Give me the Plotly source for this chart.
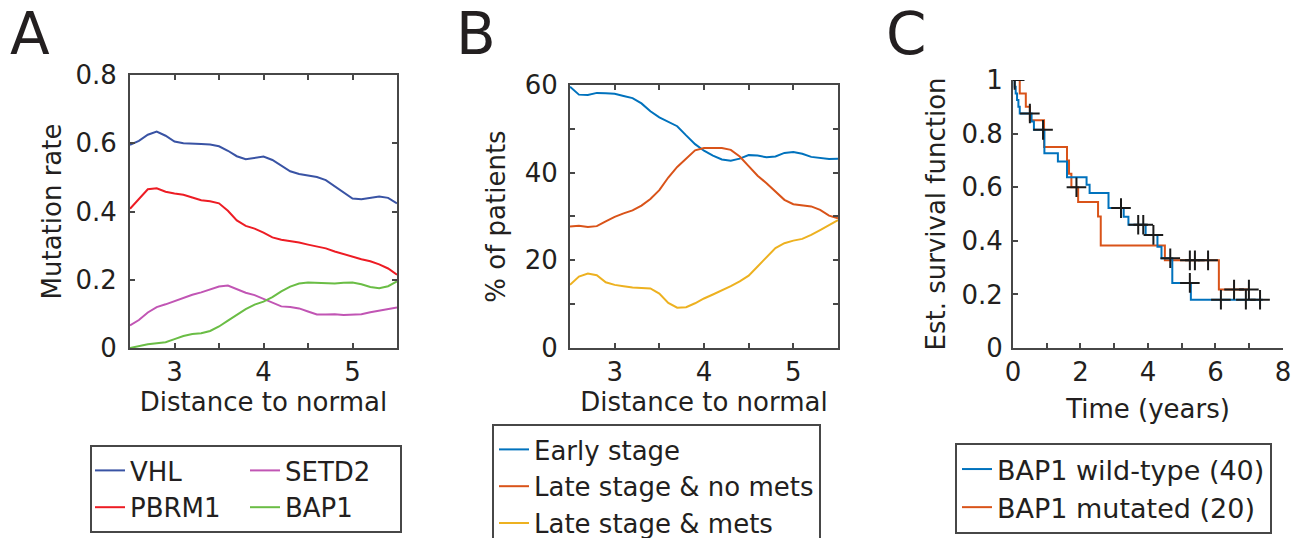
import plotly.graph_objects as go

# ---------------- Panel A data ----------------
dist = [2.5, 2.6, 2.7, 2.8, 2.9, 3.0, 3.1, 3.2, 3.3, 3.4, 3.5, 3.6, 3.7, 3.8, 3.9, 4.0,
        4.1, 4.2, 4.3, 4.4, 4.5, 4.6, 4.7, 4.8, 4.9, 5.0, 5.1, 5.2, 5.3, 5.4, 5.5]
vhl = [0.595, 0.607, 0.625, 0.634, 0.622, 0.605, 0.600, 0.600, 0.598, 0.596, 0.591, 0.578,
       0.562, 0.553, 0.558, 0.561, 0.551, 0.534, 0.518, 0.510, 0.506, 0.501, 0.492, 0.474,
       0.454, 0.438, 0.436, 0.440, 0.444, 0.440, 0.424]
pbrm1 = [0.408, 0.435, 0.465, 0.468, 0.458, 0.453, 0.449, 0.441, 0.433, 0.430, 0.424, 0.402,
         0.374, 0.358, 0.350, 0.338, 0.324, 0.317, 0.314, 0.309, 0.303, 0.298, 0.292, 0.283,
         0.275, 0.267, 0.260, 0.254, 0.245, 0.233, 0.215]
setd2 = [0.066, 0.082, 0.104, 0.120, 0.128, 0.138, 0.147, 0.156, 0.163, 0.172, 0.180, 0.183,
         0.172, 0.162, 0.155, 0.144, 0.131, 0.122, 0.120, 0.116, 0.107, 0.098, 0.098, 0.099,
         0.097, 0.097, 0.099, 0.105, 0.110, 0.113, 0.119]
bap1 = [0.000, 0.006, 0.011, 0.014, 0.017, 0.026, 0.035, 0.041, 0.043, 0.050, 0.063, 0.080,
        0.097, 0.114, 0.127, 0.136, 0.149, 0.166, 0.180, 0.189, 0.192, 0.191, 0.189, 0.189,
        0.191, 0.192, 0.187, 0.179, 0.175, 0.181, 0.195]

# ---------------- Panel B data ----------------
early = [59.6, 57.8, 57.7, 58.2, 58.1, 58.0, 57.5, 57.0, 55.8, 54.0, 52.6, 51.6, 50.6, 48.5,
         46.5, 45.0, 43.9, 43.0, 42.7, 43.2, 44.0, 43.9, 43.5, 43.7, 44.5, 44.7, 44.3, 43.6,
         43.3, 43.1, 43.2]
late_nomets = [27.7, 27.9, 27.6, 27.8, 28.9, 29.9, 30.7, 31.4, 32.5, 34.0, 36.0, 38.9, 41.3,
               43.3, 45.1, 45.6, 45.6, 45.6, 45.2, 43.7, 41.5, 39.3, 37.6, 35.8, 33.8, 32.8,
               32.5, 32.3, 31.5, 30.2, 29.6]
late_mets = [14.4, 16.3, 17.0, 16.6, 15.0, 14.4, 14.1, 13.8, 13.7, 13.6, 12.4, 10.3, 9.2, 9.3,
             10.2, 11.3, 12.2, 13.1, 14.1, 15.2, 16.5, 18.6, 20.7, 22.8, 23.9, 24.5, 24.9,
             25.8, 26.9, 28.0, 29.2]

# ---------------- Panel C data (Kaplan-Meier) ----------------
wt_t = [0, 0.05, 0.08, 0.12, 0.16, 0.2, 0.55, 0.62, 0.93, 1.33, 1.6, 2.18, 2.27, 2.83, 3.28,
        3.42, 3.93, 4.28, 4.4, 4.72, 5.27, 7.4]
wt_s = [1.0, 0.975, 0.95, 0.925, 0.9, 0.875, 0.845, 0.814, 0.727, 0.696, 0.637, 0.609, 0.578,
        0.522, 0.49, 0.46, 0.422, 0.378, 0.335, 0.243, 0.18, 0.18]
mut_t = [0, 0.2, 0.38, 0.5, 0.92, 1.6, 1.66, 1.73, 1.93, 2.52, 2.6, 4.5, 6.1, 7.0]
mut_s = [1.0, 0.95, 0.9, 0.85, 0.75, 0.7, 0.65, 0.6, 0.545, 0.491, 0.382, 0.327, 0.218, 0.218]
wt_cens_t = [0.05, 0.5, 0.89, 3.2, 3.71, 3.86, 4.16, 4.66, 5.24, 6.16, 6.9, 7.32]
wt_cens_s = [1.0, 0.875, 0.814, 0.522, 0.46, 0.46, 0.422, 0.335, 0.243, 0.18, 0.18, 0.18]
mut_cens_t = [1.88, 5.24, 5.39, 5.78, 6.55, 6.99]
mut_cens_s = [0.6, 0.327, 0.327, 0.327, 0.218, 0.218]

FONT = "DejaVu Sans, Verdana, sans-serif"
TXT = "#231f20"
AX = "#474747"
FS = 26
LFS = 26

fig = go.Figure()

# Panel A traces
colA = {"VHL": "#3953a4", "PBRM1": "#ed1c24", "SETD2": "#c155b4", "BAP1": "#6abd45"}
seriesA = [("VHL", vhl, "g1"), ("PBRM1", pbrm1, "g1"), ("SETD2", setd2, "g2"), ("BAP1", bap1, "g2")]
for name, ys, grp in seriesA:
    fig.add_trace(go.Scatter(x=dist, y=ys, mode="lines", name=name, legendgroup=grp,
                             line=dict(color=colA[name], width=2), xaxis="x", yaxis="y",
                             legend="legend"))

# Panel B traces
seriesB = [("Early stage", early, "#0072bd"), ("Late stage & no mets", late_nomets, "#d95319"),
           ("Late stage & mets", late_mets, "#edb120")]
for name, ys, c in seriesB:
    fig.add_trace(go.Scatter(x=dist, y=ys, mode="lines", name=name,
                             line=dict(color=c, width=2), xaxis="x2", yaxis="y2",
                             legend="legend2"))

# Panel C traces
fig.add_trace(go.Scatter(x=mut_t, y=mut_s, mode="lines", name="BAP1 mutated (20)",
                         line=dict(color="#d95319", width=2, shape="hv"), xaxis="x3", yaxis="y3",
                         legend="legend3", legendrank=2))
fig.add_trace(go.Scatter(x=wt_t, y=wt_s, mode="lines", name="BAP1 wild-type (40)",
                         line=dict(color="#0072bd", width=2, shape="hv"), xaxis="x3", yaxis="y3",
                         legend="legend3", legendrank=1))
fig.add_trace(go.Scatter(x=wt_cens_t + mut_cens_t, y=wt_cens_s + mut_cens_s, mode="markers",
                         showlegend=False, xaxis="x3", yaxis="y3",
                         marker=dict(symbol="cross-thin", size=14, color="#1a1a1a",
                                     line=dict(color="#1a1a1a", width=2))))

def axis_common(**kw):
    d = dict(showline=True, linecolor=AX, linewidth=2, ticks="inside", ticklen=5,
             tickwidth=2, tickcolor=AX, showgrid=False, zeroline=False, automargin=False,
             tickfont=dict(family=FONT, size=FS, color=TXT),
             title_font=dict(family=FONT, size=FS, color=TXT))
    d.update(kw)
    return d

xA_vals = [2.5, 3, 3.5, 4, 4.5, 5, 5.5]
xA_text = ["", "3", "", "4", "", "5", ""]

fig.update_layout(
    template="none",
    width=1299, height=538, autosize=False,
    margin=dict(l=0, r=0, t=0, b=0, autoexpand=False),
    paper_bgcolor="white", plot_bgcolor="white",
    font=dict(family=FONT, size=FS, color=TXT),
    xaxis=axis_common(domain=[0.10008, 0.30562], range=[2.5, 5.5], anchor="y", mirror="ticks",
                      tickvals=xA_vals, ticktext=xA_text,
                      title=dict(text="Distance to normal", standoff=4)),
    yaxis=axis_common(domain=[0.35316, 0.86059], range=[0, 0.8], anchor="x", mirror="ticks",
                      tickvals=[0, 0.2, 0.4, 0.6, 0.8], ticktext=["0", "0.2", "0.4", "0.6", "0.8"],
                      ticklabelstandoff=6, title=dict(text="Mutation rate", standoff=6)),
    xaxis2=axis_common(domain=[0.43880, 0.64511], range=[2.5, 5.5], anchor="y2", mirror="ticks",
                       tickvals=xA_vals, ticktext=xA_text,
                       title=dict(text="Distance to normal", standoff=4)),
    yaxis2=axis_common(domain=[0.35316, 0.84201], range=[0, 60], anchor="x2", mirror="ticks",
                       tickvals=[0, 10, 20, 30, 40, 50, 60],
                       ticktext=["0", "", "20", "", "40", "", "60"],
                       ticklabelstandoff=5, title=dict(text="% of patients", standoff=12)),
    xaxis3=axis_common(domain=[0.77983, 0.98768], range=[0, 8], anchor="y3",
                       tickvals=[0, 1, 2, 3, 4, 5, 6, 7, 8],
                       ticktext=["0", "", "2", "", "4", "", "6", "", "8"],
                       title=dict(text="Time (years)", standoff=14)),
    yaxis3=axis_common(domain=[0.35316, 0.85130], range=[0, 1], anchor="x3",
                       tickvals=[0, 0.2, 0.4, 0.6, 0.8, 1],
                       ticktext=["0", "0.2", "0.4", "0.6", "0.8", "1"],
                       ticklabelstandoff=3, title=dict(text="Est. survival function", standoff=8)),
    legend=dict(x=90 / 1299, y=1 - 445 / 538, xanchor="left", yanchor="top",
                orientation="h", traceorder="grouped", tracegroupgap=0, entrywidth=110,
                bordercolor=AX, borderwidth=2,
                bgcolor="white", font=dict(family=FONT, size=LFS, color=TXT)),
    legend2=dict(x=492 / 1299, y=1 - 424 / 538, xanchor="left", yanchor="top",
                 orientation="v", bordercolor=AX, borderwidth=2, bgcolor="white",
                 font=dict(family=FONT, size=LFS, color=TXT)),
    legend3=dict(x=955 / 1299, y=1 - 443 / 538, xanchor="left", yanchor="top",
                 orientation="v", bordercolor=AX, borderwidth=2, bgcolor="white",
                 font=dict(family=FONT, size=27, color=TXT)),
    annotations=[
        dict(text="A", x=8 / 1299, y=1 - 34 / 538, xref="paper", yref="paper",
             xanchor="left", yanchor="middle", showarrow=False,
             font=dict(family=FONT, size=58, color=TXT)),
        dict(text="B", x=454 / 1299, y=1 - 34 / 538, xref="paper", yref="paper",
             xanchor="left", yanchor="middle", showarrow=False,
             font=dict(family=FONT, size=58, color=TXT)),
        dict(text="C", x=884 / 1299, y=1 - 34 / 538, xref="paper", yref="paper",
             xanchor="left", yanchor="middle", showarrow=False,
             font=dict(family=FONT, size=58, color=TXT)),
    ],
)

fig.write_html("out.html", config={"displayModeBar": False},
               post_script="document.body.style.margin='0';document.body.style.padding='0';")
